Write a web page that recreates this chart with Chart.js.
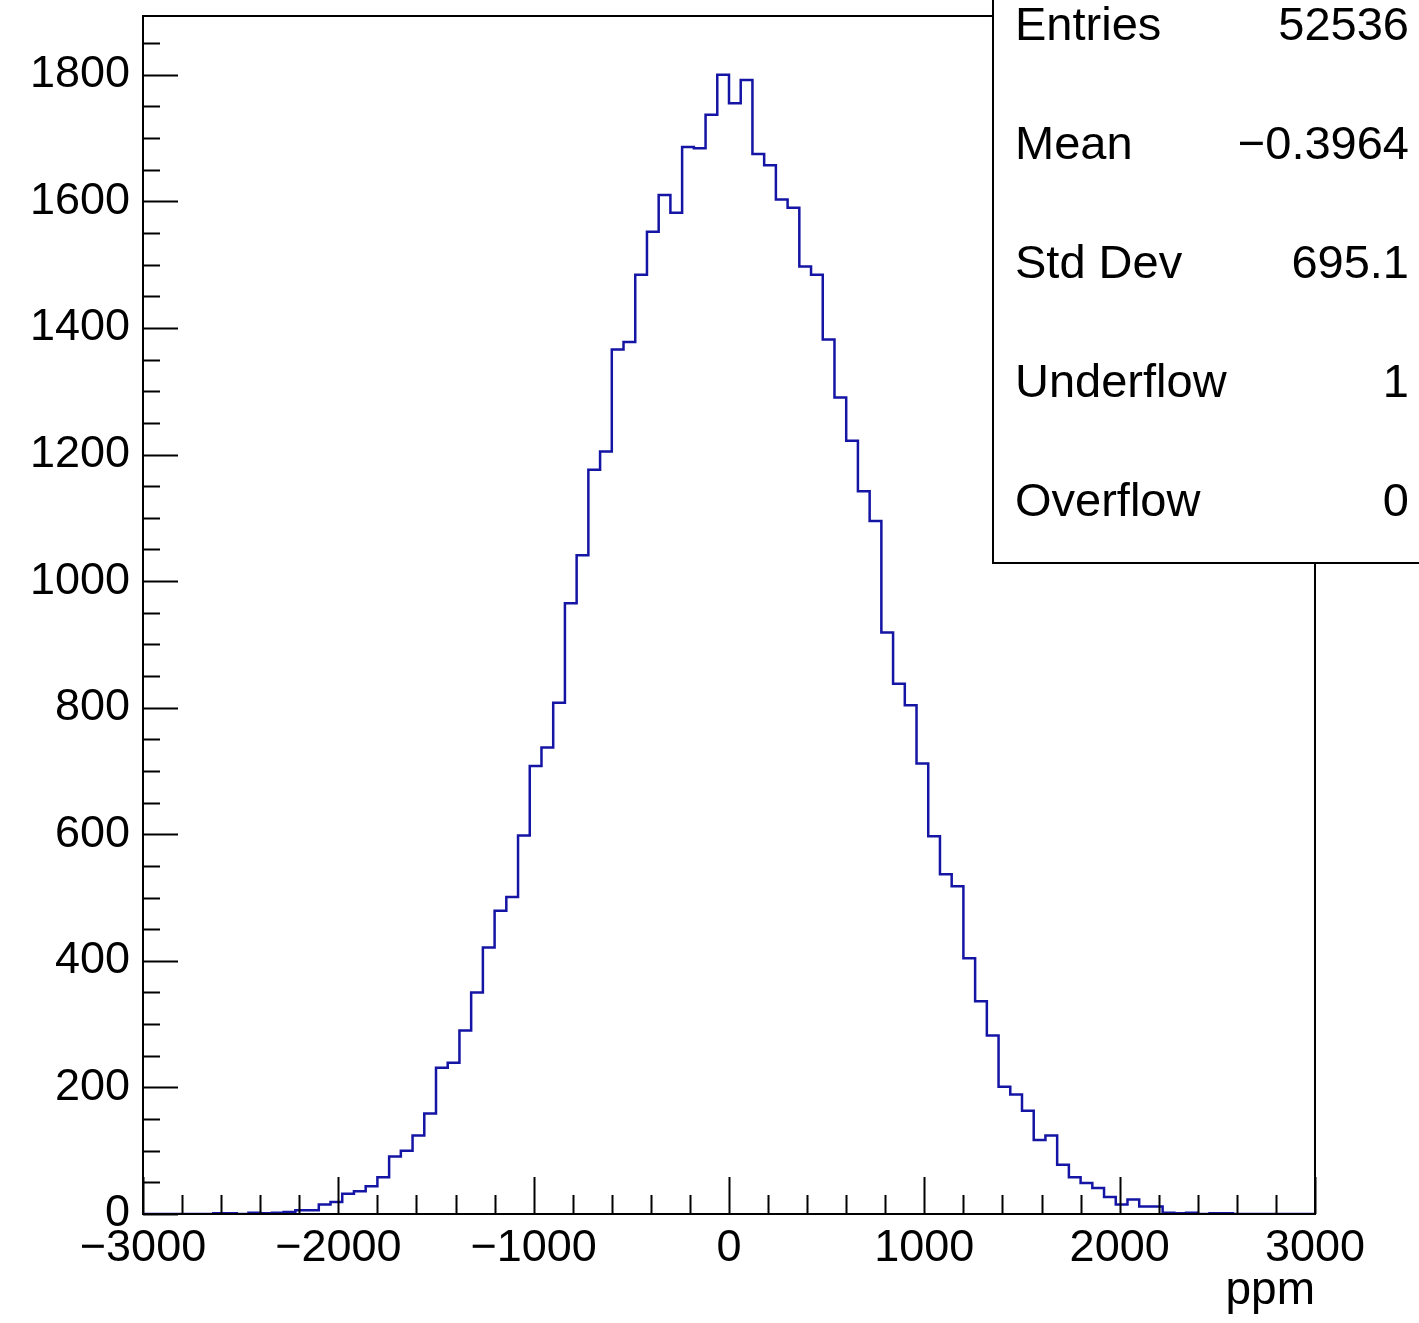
<!DOCTYPE html>
<html><head><meta charset="utf-8">
<script src="https://cdn.jsdelivr.net/npm/chart.js@4.4.1/dist/chart.umd.min.js"></script>
<style>html,body{margin:0;padding:0;background:#fff;overflow:hidden}canvas{display:block}</style>
</head><body>
<canvas id="c" width="1419" height="1323"></canvas>
<script>
// ---- data ----
const xMin = -3000, xMax = 3000, nBins = 100;
const counts = [
  0,0,0,0,0,0,1,1,0,2,
  1,2,3,6,6,15,19,32,36,44,
  58,91,100,124,159,231,239,290,350,421,
  479,501,598,708,737,808,965,1041,1176,1205,
  1366,1378,1484,1552,1610,1582,1686,1684,1737,1800,
  1755,1792,1675,1657,1603,1590,1497,1484,1382,1290,
  1222,1142,1095,919,838,804,712,597,537,518,
  404,336,282,201,189,163,117,124,78,58,
  49,41,27,15,23,12,12,2,1,2,
  0,1,1,0,0,0,0,0,0,0
];
const xTickValues = [-3000,-2000,-1000,0,1000,2000,3000];
const yTickValues = [0,200,400,600,800,1000,1200,1400,1600,1800];
const xMinorStep = 200, yMinorStep = 50;
const yMaxValue = 1893;
const xTitle = 'ppm';
const statLabels = ['Entries','Mean','Std Dev','Underflow','Overflow'];
const statValues = ['52536','\u22120.3964','695.1','1','0'];

// ---- build ----
const FONT = '"Liberation Sans", Arial, Helvetica, sans-serif';
const binWidth = (xMax - xMin) / nBins;
const points = counts.map((c, i) => ({x: xMin + i * binWidth, y: c}));
points.push({x: xMax, y: counts[nBins - 1]});
const fmt = v => v < 0 ? '\u2212' + Math.abs(v) : String(v);
const noPad = s => { s.paddingTop = 0; s.paddingBottom = 0; s.paddingLeft = 0; s.paddingRight = 0; };

const framePlugin = {
  id: 'frame',
  afterDatasetsDraw(chart) {
    const {ctx, chartArea: a, scales: {x, y}} = chart;
    ctx.save();
    ctx.strokeStyle = '#000';
    ctx.lineWidth = 2;
    ctx.strokeRect(a.left, a.top, a.right - a.left, a.bottom - a.top);
    ctx.beginPath();
    for (let v = xMin; v <= xMax + 1e-6; v += xMinorStep) {
      const px = Math.round(x.getPixelForValue(v)) + 0.5;
      const len = xTickValues.includes(v) ? 37 : 19;
      ctx.moveTo(px, a.bottom);
      ctx.lineTo(px, a.bottom - len);
    }
    for (let v = 0; v <= y.max + 1e-6; v += yMinorStep) {
      const py = Math.round(y.getPixelForValue(v)) + 0.5;
      const len = yTickValues.includes(v) ? 35 : 17;
      ctx.moveTo(a.left, py);
      ctx.lineTo(a.left + len, py);
    }
    ctx.stroke();
    ctx.restore();
  },
  afterDraw(chart) {
    const {ctx} = chart;
    ctx.save();
    ctx.fillStyle = '#fff';
    ctx.fillRect(993, -60, 500, 623);
    ctx.strokeStyle = '#000';
    ctx.lineWidth = 2;
    ctx.strokeRect(993, -60, 500, 623);
    ctx.fillStyle = '#000';
    ctx.font = '47px ' + FONT;
    ctx.textBaseline = 'middle';
    statLabels.forEach((lab, i) => {
      const cy = 27 + 119 * i;
      ctx.textAlign = 'left';
      ctx.fillText(lab, 1015, cy);
      ctx.textAlign = 'right';
      ctx.fillText(statValues[i], 1409, cy);
    });
    ctx.restore();
  }
};

new Chart(document.getElementById('c'), {
  type: 'line',
  data: {datasets: [{
    data: points,
    borderColor: 'rgb(20,20,165)',
    borderWidth: 2.5,
    pointRadius: 0,
    stepped: 'before',
    fill: false
  }]},
  options: {
    responsive: false,
    animation: false,
    devicePixelRatio: 1,
    layout: {padding: {top: 16, right: 104, left: 0, bottom: 0}},
    plugins: {legend: {display: false}, tooltip: {enabled: false}},
    scales: {
      x: {
        type: 'linear', min: xMin, max: xMax,
        afterBuildTicks: s => { s.ticks = xTickValues.map(v => ({value: v})); },
        afterFit: s => { s.height = 109; noPad(s); },
        grid: {display: false}, border: {display: false},
        ticks: {autoSkip: false, maxRotation: 0, padding: 0, color: '#000',
                font: {family: FONT, size: 45}, callback: v => fmt(v)},
        title: {display: true, text: xTitle, align: 'end', color: '#000',
                font: {family: FONT, size: 46}, padding: {top: 0, bottom: 4}}
      },
      y: {
        type: 'linear', min: 0, max: yMaxValue,
        afterBuildTicks: s => { s.ticks = yTickValues.map(v => ({value: v})); },
        afterFit: s => { s.width = 143; noPad(s); },
        grid: {display: false}, border: {display: false},
        ticks: {padding: 5, color: '#000', font: {family: FONT, size: 45},
                callback: v => fmt(v)}
      }
    }
  },
  plugins: [framePlugin]
});
</script>
</body></html>
